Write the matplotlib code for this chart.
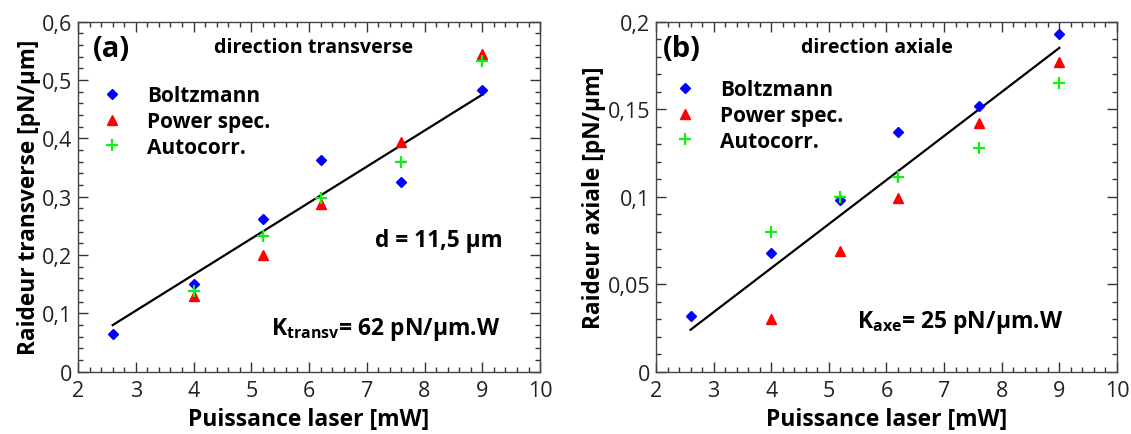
import numpy as np
import matplotlib
matplotlib.use('Agg')
import matplotlib.pyplot as plt
from matplotlib.ticker import MultipleLocator, FuncFormatter

plt.rcParams['font.family'] = ['Open Sans', 'DejaVu Sans']
plt.rcParams['mathtext.fontset'] = 'custom'
plt.rcParams['mathtext.rm'] = 'Open Sans'
plt.rcParams['mathtext.bf'] = 'Open Sans:bold'

# panel (a) - transverse
xa_boltz = [2.6, 4.0, 5.2, 6.2, 7.6, 9.0]
ya_boltz = [0.065, 0.150, 0.262, 0.363, 0.325, 0.483]
xa_power = [4.0, 5.2, 6.2, 7.6, 9.0]
ya_power = [0.130, 0.200, 0.288, 0.393, 0.545]
xa_auto = [4.0, 5.2, 6.2, 7.6, 9.0]
ya_auto = [0.138, 0.233, 0.298, 0.360, 0.532]
xa_fit = [2.6, 9.0]
ya_fit = [0.080, 0.475]

# panel (b) - axial
xb_boltz = [2.6, 4.0, 5.2, 6.2, 7.6, 9.0]
yb_boltz = [0.032, 0.068, 0.098, 0.137, 0.152, 0.193]
xb_power = [4.0, 5.2, 6.2, 7.6, 9.0]
yb_power = [0.030, 0.069, 0.099, 0.142, 0.177]
xb_auto = [4.0, 5.2, 6.2, 7.6, 9.0]
yb_auto = [0.080, 0.100, 0.111, 0.128, 0.165]
xb_fit = [2.6, 9.0]
yb_fit = [0.024, 0.185]


def comma(v, pos):
    s = ('%.2f' % v).rstrip('0').rstrip('.')
    return s.replace('.', ',')


def setup(ax, ymax, ymaj, ymin, ylabel):
    ax.set_xlim(2, 10)
    ax.set_ylim(0, ymax)
    ax.xaxis.set_major_locator(MultipleLocator(1))
    ax.xaxis.set_minor_locator(MultipleLocator(0.2))
    ax.yaxis.set_major_locator(MultipleLocator(ymaj))
    ax.yaxis.set_minor_locator(MultipleLocator(ymin))
    ax.yaxis.set_major_formatter(FuncFormatter(comma))
    ax.tick_params(which='both', direction='in', top=True, right=True,
                   colors='#333333', labelsize=15.5, labelcolor='#222222')
    ax.tick_params(which='major', length=7, width=1)
    ax.tick_params(which='minor', length=3.5, width=1)
    ax.tick_params(axis='x', which='major', pad=6)
    ax.tick_params(axis='y', which='major', pad=4)
    for s in ax.spines.values():
        s.set_color('#444444')
        s.set_linewidth(1)
    ax.set_xlabel('Puissance laser [mW]', fontsize=16.5, fontweight='bold', labelpad=4)
    ax.set_ylabel(ylabel, fontsize=16.3, fontweight='bold', labelpad=1)


fig = plt.figure(figsize=(11.31, 4.35), dpi=100)
ax1 = fig.add_axes([0.069, 0.143, 0.4085, 0.805])
ax2 = fig.add_axes([0.580, 0.143, 0.4076, 0.805])

panels = [(ax1, (xa_boltz, xa_power, xa_auto, xa_fit), (ya_boltz, ya_power, ya_auto, ya_fit), (0.037, 0.818)),
          (ax2, (xb_boltz, xb_power, xb_auto, xb_fit), (yb_boltz, yb_power, yb_auto, yb_fit), (0.027, 0.835))]
for ax, xs, ys, anchor in panels:
    ax.plot(xs[3], ys[3], c='black', lw=1.6, zorder=2)
    ax.plot(xs[0], ys[0], 'D', c='#0000ff', ms=5, ls='none', label='Boltzmann', zorder=3)
    ax.plot(xs[1], ys[1], '^', c='#ff0000', ms=6.5, ls='none', label='Power spec.', zorder=3)
    ax.plot(xs[2], ys[2], '+', c='#11ee11', ms=8.5, mew=1.6, ls='none', label='Autocorr.', zorder=4)
    ax.legend(loc='upper left', bbox_to_anchor=anchor, frameon=False,
              prop={'size': 15, 'weight': 'bold'}, handletextpad=0.88,
              handlelength=1.6, labelspacing=0.22, borderaxespad=0, borderpad=0)

setup(ax1, 0.6, 0.1, 0.02, 'Raideur transverse [pN/µm]')
setup(ax2, 0.2, 0.05, 0.01, 'Raideur axiale [pN/µm]')

ax1.text(0.032, 0.903, '(a)', transform=ax1.transAxes, fontsize=21, fontweight='bold', va='baseline')
ax1.text(0.509, 0.913, 'direction transverse', transform=ax1.transAxes, fontsize=14.2,
         fontweight='bold', ha='center', va='baseline')
ax1.text(0.918, 0.359, 'd = 11,5 µm', transform=ax1.transAxes, fontsize=16.3,
         fontweight='bold', ha='right', va='baseline')
ax1.text(0.913, 0.108, r'K$_{\mathbf{transv}}$= 62 pN/µm.W', transform=ax1.transAxes,
         fontsize=16.5, fontweight='bold', ha='right', va='baseline')

ax2.text(0.015, 0.903, '(b)', transform=ax2.transAxes, fontsize=21, fontweight='bold', va='baseline')
ax2.text(0.479, 0.913, 'direction axiale', transform=ax2.transAxes, fontsize=14.1,
         fontweight='bold', ha='center', va='baseline')
ax2.text(0.883, 0.128, r'K$_{\mathbf{axe}}$= 25 pN/µm.W', transform=ax2.transAxes,
         fontsize=16.5, fontweight='bold', ha='right', va='baseline')

fig.savefig('out.png', dpi=100)
